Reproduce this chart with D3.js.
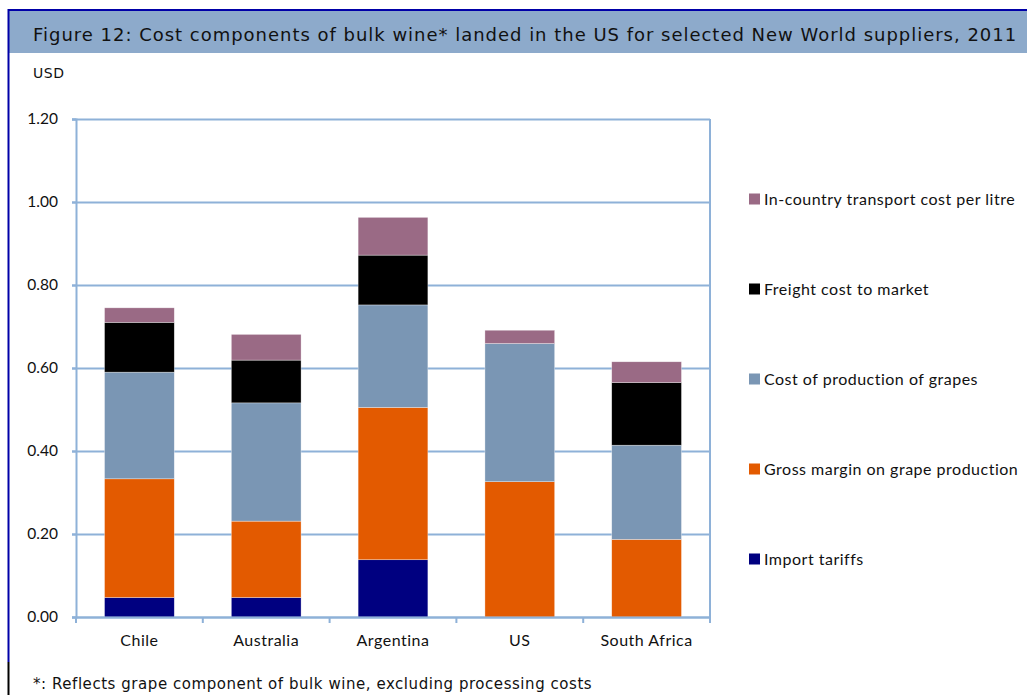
<!DOCTYPE html>
<html>
<head>
<meta charset="utf-8">
<script src="https://cdn.jsdelivr.net/npm/d3@7"></script>
<style>
  html, body { margin: 0; padding: 0; background: #fff; }
  svg { display: block; }
</style>
</head>
<body>
<svg id="chart" width="1027" height="695"></svg>
<script>
// Suppliers shown along the x axis
const suppliers = ["Chile", "Australia", "Argentina", "US", "South Africa"];

// Cost components, stacked bottom to top (USD per litre)
const importTariffs      = [0.047, 0.047, 0.138, 0.000, 0.000];
const grossMargin        = [0.286, 0.184, 0.367, 0.326, 0.187];
const productionCost     = [0.257, 0.285, 0.247, 0.333, 0.227];
const freightCost        = [0.120, 0.103, 0.120, 0.000, 0.151];
const inCountryTransport = [0.035, 0.062, 0.091, 0.032, 0.050];

const yTicks = [0, 0.2, 0.4, 0.6, 0.8, 1.0, 1.2];

const seriesDefs = [
  { key: "tariffs",   name: "Import tariffs",                       values: importTariffs,      color: "#000080" },
  { key: "margin",    name: "Gross margin on grape production",     values: grossMargin,        color: "#E35A00" },
  { key: "prod",      name: "Cost of production of grapes",         values: productionCost,     color: "#7A96B4" },
  { key: "freight",   name: "Freight cost to market",               values: freightCost,        color: "#000000" },
  { key: "transport", name: "In-country transport cost per litre",  values: inCountryTransport, color: "#9A6A85" }
];

const rows = suppliers.map((s, i) => {
  const r = { supplier: s };
  seriesDefs.forEach(d => { r[d.key] = d.values[i]; });
  return r;
});

const svg = d3.select("#chart");
const W = 1027, H = 695;

// Frame: dark blue border on top and left, title band
svg.append("rect").attr("x", 8).attr("y", 10).attr("width", W - 8).attr("height", 43)
  .attr("fill", "#8DAACB");
svg.append("line").attr("x1", 8).attr("x2", W).attr("y1", 10).attr("y2", 10)
  .attr("stroke", "#0000A8").attr("stroke-width", 2);
svg.append("line").attr("x1", 8.5).attr("x2", 8.5).attr("y1", 9).attr("y2", 662)
  .attr("stroke", "#0000A8").attr("stroke-width", 2);
svg.append("line").attr("x1", 8.5).attr("x2", 8.5).attr("y1", 662).attr("y2", H)
  .attr("stroke", "#000000").attr("stroke-width", 2);

svg.append("text").attr("x", 33).attr("y", 41)
  .attr("font-family", "DejaVu Sans").attr("font-size", 18).attr("letter-spacing", 0.98)
  .attr("fill", "#111")
  .text("Figure 12: Cost components of bulk wine* landed in the US for selected New World suppliers, 2011");

svg.append("text").attr("x", 33).attr("y", 78)
  .attr("font-family", "DejaVu Sans").attr("font-size", 14).attr("letter-spacing", 0.6)
  .attr("fill", "#111")
  .text("USD");

// Plot area
const plot = { left: 76, right: 710, top: 119, bottom: 617 };

const x = d3.scaleBand().domain(suppliers).range([plot.left, plot.right]).paddingInner(0.45).paddingOuter(0.225);
const xOuter = d3.scaleBand().domain(suppliers).range([plot.left, plot.right]).padding(0);
const y = d3.scaleLinear().domain([0, 1.2]).range([plot.bottom, plot.top]);

const gridColor = "#8EB1D8";

// Horizontal gridlines
svg.append("g").selectAll("line").data(yTicks).join("line")
  .attr("x1", plot.left - 4).attr("x2", plot.right)
  .attr("y1", d => Math.round(y(d)) + 0.5).attr("y2", d => Math.round(y(d)) + 0.5)
  .attr("stroke", gridColor).attr("stroke-width", 2);

// Right border of plot area
svg.append("line").attr("x1", plot.right).attr("x2", plot.right)
  .attr("y1", plot.top).attr("y2", plot.bottom + 6)
  .attr("stroke", gridColor).attr("stroke-width", 2);

// Stacked bars
const stack = d3.stack().keys(seriesDefs.map(d => d.key));
const stacked = stack(rows);

svg.append("g").selectAll("g").data(stacked).join("g")
  .attr("fill", (d, i) => seriesDefs[i].color)
  .selectAll("rect").data(d => d).join("rect")
  .attr("x", d => x(d.data.supplier))
  .attr("width", x.bandwidth())
  .attr("y", d => y(d[1]))
  .attr("height", d => Math.max(0, y(d[0]) - y(d[1])))
  .attr("stroke", d => (d[1] - d[0]) > 0 ? "rgba(255,255,255,0.55)" : "none")
  .attr("stroke-width", 0.6);

// Y axis
const yAxis = d3.axisLeft(y).tickValues(yTicks).tickFormat(d3.format(".2f")).tickSize(4).tickPadding(14);
const gy = svg.append("g").attr("transform", `translate(${plot.left},0)`).call(yAxis);
gy.select(".domain").attr("stroke", gridColor).attr("stroke-width", 2);
gy.selectAll(".tick line").attr("stroke", gridColor).attr("stroke-width", 2);
gy.selectAll(".tick text").attr("font-family", "Lato").attr("font-size", 15.5).attr("fill", "#111");

// X axis with ticks at category boundaries
const gx = svg.append("g").attr("transform", `translate(0,${plot.bottom})`);
gx.append("line").attr("x1", plot.left).attr("x2", plot.right).attr("y1", 0.5).attr("y2", 0.5)
  .attr("stroke", gridColor).attr("stroke-width", 2);
const boundaries = suppliers.map(s => xOuter(s)).concat([plot.right]);
gx.selectAll(".bt").data(boundaries).join("line").attr("class", "bt")
  .attr("x1", d => d).attr("x2", d => d).attr("y1", 0).attr("y2", 6)
  .attr("stroke", gridColor).attr("stroke-width", 2);
gx.selectAll(".lbl").data(suppliers).join("text").attr("class", "lbl")
  .attr("x", d => xOuter(d) + xOuter.bandwidth() / 2).attr("y", 29)
  .attr("text-anchor", "middle")
  .attr("font-family", "Lato").attr("font-size", 16).attr("letter-spacing", 0.5).attr("fill", "#111")
  .text(d => d);

// Legend (top entry is the top of the stack)
const legendItems = seriesDefs.slice().reverse();
const legend = svg.append("g").selectAll("g").data(legendItems).join("g")
  .attr("transform", (d, i) => `translate(749,${199 + i * 90})`);
legend.append("rect").attr("x", 0).attr("y", -5.5).attr("width", 11).attr("height", 11)
  .attr("fill", d => d.color);
legend.append("text").attr("x", 15).attr("y", 5.5)
  .attr("font-family", "Lato").attr("font-size", 16).attr("letter-spacing", 0.5).attr("fill", "#111")
  .text(d => d.name);

// Footnote
svg.append("text").attr("x", 33).attr("y", 689)
  .attr("font-family", "DejaVu Sans").attr("font-size", 15).attr("letter-spacing", 0.55)
  .attr("fill", "#111")
  .text("*: Reflects grape component of bulk wine, excluding processing costs");
</script>
</body>
</html>
